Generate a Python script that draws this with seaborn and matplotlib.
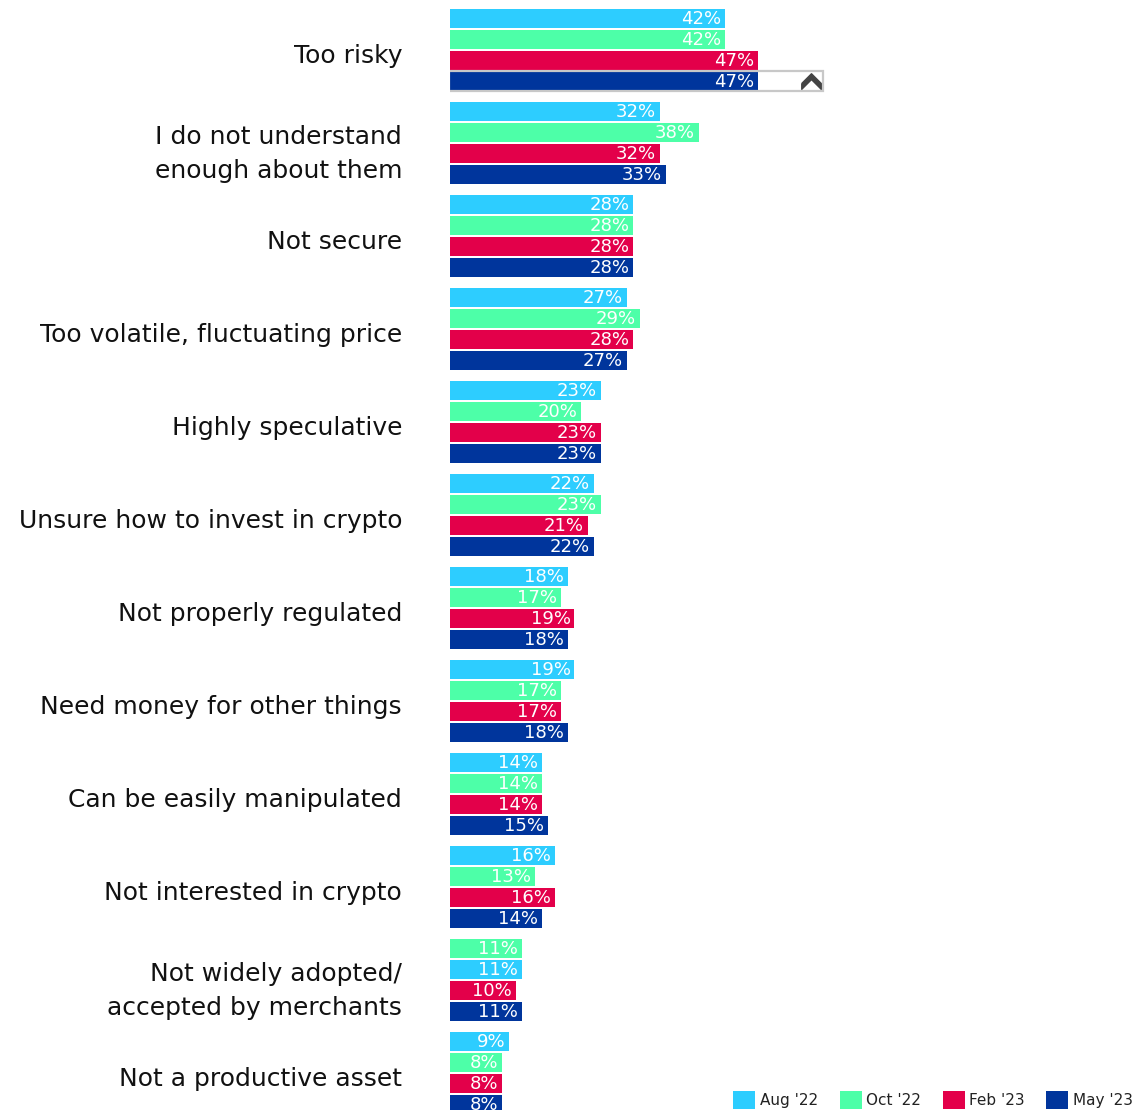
import matplotlib
matplotlib.use("Agg")
import matplotlib.pyplot as plt
from matplotlib.patches import Rectangle
import numpy as np
import pandas as pd
import seaborn as sns

# ── data ─────────────────────────────────────────────────────────────────────
CATEGORIES = [
    "Too risky",
    "I do not understand\nenough about them",
    "Not secure",
    "Too volatile, fluctuating price",
    "Highly speculative",
    "Unsure how to invest in crypto",
    "Not properly regulated",
    "Need money for other things",
    "Can be easily manipulated",
    "Not interested in crypto",
    "Not widely adopted/\naccepted by merchants",
    "Not a productive asset",
]
SERIES = ["Aug '22", "Oct '22", "Feb '23", "May '23"]
AUG_22 = [42, 32, 28, 27, 23, 22, 18, 19, 14, 16, 11, 9]
OCT_22 = [42, 38, 28, 29, 20, 23, 17, 17, 14, 13, 11, 8]
FEB_23 = [47, 32, 28, 28, 23, 21, 19, 17, 14, 16, 10, 8]
MAY_23 = [47, 33, 28, 27, 23, 22, 18, 18, 15, 14, 11, 8]
# in the source, this one group lists Oct '22 above Aug '22
ORDER_OVERRIDE = {"Not widely adopted/\naccepted by merchants":
                  ["Oct '22", "Aug '22", "Feb '23", "May '23"]}

COLORS = {"Aug '22": "#2dcdff", "Oct '22": "#4dffa8",
          "Feb '23": "#e3004a", "May '23": "#00359c"}

# ── layout (pixel-matched to a 1145x1110 canvas) ─────────────────────────────
W, H, DPI = 1145, 1110, 100
X0_PX = 450            # left edge of bars
PX_PER_PCT = 6.55
SLOT_PX = 21           # bar pitch
GROUP = 93 / SLOT_PX   # group pitch, in bar slots
TOP_PX = 9

values = dict(zip(SERIES, [AUG_22, OCT_22, FEB_23, MAY_23]))
rows = []
for g, cat in enumerate(CATEGORIES):
    order = ORDER_OVERRIDE.get(cat, SERIES)
    for i, s in enumerate(order):
        rows.append({"category": cat, "series": s,
                     "value": values[s][g], "pos": g * GROUP + i})
df = pd.DataFrame(rows)

sns.set_theme(style="white")
plt.rcParams["font.family"] = ["DejaVu Sans"]

fig = plt.figure(figsize=(W / DPI, H / DPI), dpi=DPI)
ax = fig.add_axes([X0_PX / W, 0, 1 - X0_PX / W, 1])

sns.barplot(data=df, x="value", y="pos", hue="series", hue_order=SERIES,
            palette=COLORS, orient="h", native_scale=True, dodge=False,
            width=0.9, saturation=1, errorbar=None, linewidth=0, ax=ax)

ax.set_xlim(0, (W - X0_PX) / PX_PER_PCT)
y_top = -0.45 - TOP_PX / SLOT_PX
ax.set_ylim(y_top + H / SLOT_PX, y_top)

# value labels inside bar ends
for _, r in df.iterrows():
    ax.text(r["value"] - 0.6, r["pos"] + 0.04, f"{r['value']}%",
            ha="right", va="center", color="white", fontsize=13,
            zorder=10)

# category labels (sit a touch below the group centre, as in the source)
centers = [g * GROUP + 1.65 for g in range(len(CATEGORIES))]
ax.set_yticks(centers)
ax.set_yticklabels(CATEGORIES, fontsize=18, color="#111111",
                   ha="right", linespacing=1.55)
ax.tick_params(axis="y", length=0, pad=34.5)
ax.set_xticks([])
ax.set_xlabel("")
ax.set_ylabel("")
for sp in ax.spines.values():
    sp.set_visible(False)

# selection box with chevron around the first May '23 bar
ax.add_patch(Rectangle((-0.15, 2.5), (824 - X0_PX) / PX_PER_PCT, 0.97,
                       fill=False, edgecolor="#c8c8c8", lw=1.6, zorder=5))
chevron = [(-1, -0.1), (0, 0.9), (1, -0.1), (1, -0.7), (0, 0.3), (-1, -0.7), (-1, -0.1)]
ax.plot([(811 - X0_PX) / PX_PER_PCT], [3.02], marker=chevron, markersize=14,
        color="#444444", linestyle="none", zorder=6)

sns.move_legend(ax, "lower right", bbox_to_anchor=(1133 / W, 1 / H),
                bbox_transform=fig.transFigure, ncol=4, frameon=False,
                title=None, fontsize=11, handlelength=1.45, handleheight=1.45,
                handletextpad=0.3, columnspacing=1.4, borderpad=0,
                borderaxespad=0, labelcolor="#222222")

fig.savefig("out.png", dpi=DPI)
